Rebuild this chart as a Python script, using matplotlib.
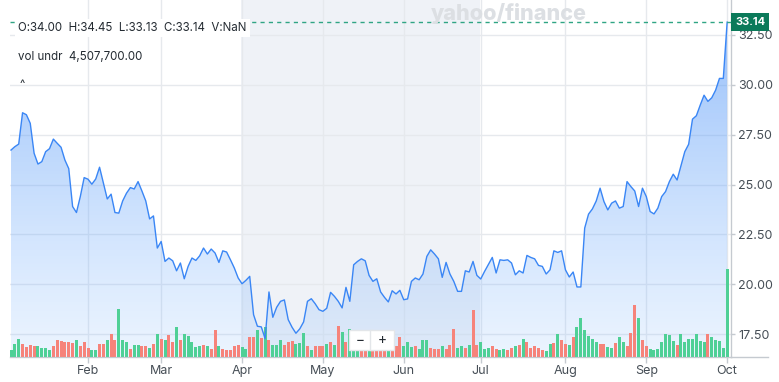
import numpy as np
import pandas as pd
import matplotlib
matplotlib.use('Agg')
import matplotlib.pyplot as plt
from matplotlib.colors import LinearSegmentedColormap

plt.rcParams['font.family'] = ['Inter', 'DejaVu Sans']

# trading days Jan 2 - Oct 1 2025
holidays = ['2025-01-09', '2025-01-20', '2025-02-17', '2025-04-18',
            '2025-05-26', '2025-06-19', '2025-07-04', '2025-09-01']
dates = pd.bdate_range('2025-01-02', '2025-10-01')
dates = dates[~dates.isin(pd.to_datetime(holidays))]

close = [
    26.73, 26.90, 27.03, 28.60, 28.50, 28.07, 26.57, 26.03, 26.15, 26.65,
    26.80, 27.28, 27.07, 26.87, 26.23, 25.80, 23.90, 23.60, 24.40, 25.35,
    25.27, 25.02, 25.28, 25.87, 25.07, 24.28, 24.52, 23.60, 23.57, 24.18,
    24.57, 24.85, 24.78, 25.15, 24.68, 24.18, 23.28, 23.43, 21.82, 22.15,
    21.15, 21.32, 21.18, 20.68, 21.07, 20.28, 20.90, 21.32, 21.20, 21.43,
    21.82, 21.52, 21.77, 21.57, 21.10, 21.68, 21.62, 21.23, 20.82, 20.32,
    20.03, 20.20, 20.40, 18.48, 17.90, 17.87, 17.28, 19.62, 18.35, 18.85,
    19.15, 19.22, 18.23, 17.85, 17.55, 17.77, 18.12, 19.15, 19.28, 19.03,
    18.73, 18.65, 18.80, 19.60, 19.40, 19.15, 18.82, 19.85, 19.15, 20.98,
    21.15, 21.28, 21.18, 20.45, 20.15, 20.28, 19.62, 19.35, 19.12, 19.68,
    19.52, 19.70, 19.23, 19.27, 20.15, 20.32, 20.23, 20.52, 21.40, 21.73,
    21.52, 21.28, 20.35, 21.10, 20.52, 20.15, 19.65, 19.65, 20.68, 20.62,
    21.15, 20.45, 20.27, 20.65, 21.00, 21.35, 20.57, 21.23, 21.20, 21.23,
    21.07, 20.48, 20.68, 20.57, 21.45, 21.35, 21.28, 20.95, 20.90, 20.52,
    20.73, 21.68, 21.60, 21.68, 20.73, 20.37, 20.62, 19.87, 19.87, 22.82,
    23.52, 23.78, 24.18, 24.82, 24.15, 23.73, 24.07, 24.18, 23.82, 23.90,
    25.15, 24.90, 24.68, 23.90, 24.82, 24.40, 23.65, 23.53, 23.82, 24.40,
    24.65, 25.15, 25.52, 25.23, 25.95, 26.65, 27.02, 28.28, 28.45, 28.98,
    29.48, 29.17, 29.35, 29.73, 30.32, 30.32, 33.14,
]

# volume in thousands of shares
volume = [
    347, 673, 948, 689, 502, 606, 585, 570, 466, 466,
    347, 585, 881, 844, 777, 793, 741, 881, 585, 761,
    466, 378, 347, 689, 689, 896, 1191, 865, 2450, 881,
    761, 430, 622, 622, 585, 554, 451, 673, 1155, 932,
    865, 1103, 777, 1554, 896, 1155, 1072, 793, 502, 585,
    637, 585, 430, 1362, 554, 430, 347, 347, 554, 622,
    502, 430, 1036, 1036, 1362, 984, 1538, 865, 637, 637,
    881, 637, 761, 844, 673, 725, 1207, 554, 347, 554,
    554, 554, 689, 761, 606, 1570, 1295, 777, 1414, 554,
    378, 466, 502, 466, 466, 466, 518, 518, 518, 466,
    585, 1036, 554, 761, 502, 554, 430, 865, 865, 466,
    414, 430, 554, 430, 622, 1414, 482, 554, 466, 637,
    2398, 606, 761, 430, 466, 585, 414, 347, 430, 378,
    466, 585, 637, 917, 761, 466, 554, 466, 347, 326,
    673, 725, 1155, 881, 673, 606, 1036, 1538, 2020, 1362,
    1072, 948, 761, 673, 673, 518, 466, 725, 1000, 777,
    585, 1207, 2657, 1984, 896, 554, 414, 378, 430, 761,
    1155, 1124, 813, 637, 1155, 761, 948, 932, 1155, 844,
    777, 1155, 1036, 896, 813, 466, 4508,
]

# g = up day, r = down day
direction = ('gggrrrrggg' 'grrrrrrgrr' 'rggrrgrrgg' 'grggrrgrgr'
             'grrgrggggg' 'rgrrgrrrrr' 'ggrrgrgrgg' 'grrrgggrgr'
             'rrgrgrgrgg' 'grrgrrrrgr' 'rrgggrgggr' 'rrgrrrggrg'
             'rrgggrrggr' 'rgrgrrrrrg' 'grgrrgrggg' 'gggrrggrgg'
             'rrrgrrgggg' 'gggrgggggg' 'grggggg')

tick_months = ['Feb', 'Mar', 'Apr', 'May', 'Jun', 'Jul', 'Aug', 'Sep', 'Oct']
price_ticks = [17.5, 20.0, 22.5, 25.0, 27.5, 30.0, 32.5]
last_close = 33.14
ohlc_text = 'O:34.00  H:34.45  L:33.13  C:33.14  V:NaN'
vol_text = 'vol undr  4,507,700.00'

W, H = 779, 382
fig = plt.figure(figsize=(W / 100, H / 100), dpi=100)
ax = fig.add_axes([10 / W, 25 / H, 721 / W, 357 / H])
ax_v = ax.twinx()
ax_l = ax.twinx()
for a in (ax_v, ax_l):
    a.patch.set_visible(False)
    a.set_yticks([])

x = np.arange(len(close))
month_first = [i for i in range(1, len(dates)) if dates[i].month != dates[i - 1].month]
ylo, yhi = 16.36, 34.25
xlo, xhi = -0.26, 187.0

# highlight band Apr - Jul
ax.axvspan(month_first[2] - 0.2, month_first[5] - 0.2, color='#eff2f7', zorder=0, lw=0)
for p in price_ticks:
    ax.axhline(p, color='#e6e9ed', lw=1, zorder=1)
for m in month_first:
    ax.axvline(m, color='#e6e9ed', lw=1, zorder=1)

# gradient fill under the line
poly = ax.fill_between(x, close, ylo, color='none', lw=0)
cmap = LinearSegmentedColormap.from_list(
    'fill', [(0.55, 0.75, 1.0, 0.17), (0.35, 0.60, 0.97, 0.62)])
grad = np.linspace(0, 1, 256).reshape(-1, 1)
im = ax.imshow(grad, extent=[x[0], x[-1], ylo, max(close)], origin='lower',
               aspect='auto', cmap=cmap, zorder=2)
im.set_clip_path(poly.get_paths()[0], transform=ax.transData)

# volume bars
bar_colors = ['#4fd096' if c == 'g' else '#f6837a' for c in direction]
ax_v.bar(x, volume, width=0.78, color=bar_colors, zorder=3)
ax_v.set_ylim(0, 18300)

# price line
ax_l.plot(x, close, color='#3a86f5', lw=1.0, zorder=4)
ax_l.axhline(last_close, color='#2fa584', lw=1, ls=(0, (3, 3)), zorder=5)
ax_l.annotate(f'{last_close:.2f}', xy=(1.0, last_close), xycoords=('axes fraction', 'data'),
              xytext=(3, 0), textcoords='offset points', ha='left', va='center',
              color='white', fontsize=8, fontweight='bold', zorder=10,
              bbox=dict(boxstyle='square,pad=0.35', fc='#0b7a5a', ec='none'),
              annotation_clip=False)

for a in (ax, ax_l):
    a.set_ylim(ylo, yhi)
ax.set_xlim(xlo, xhi)

ax.yaxis.tick_right()
ax.set_yticks(price_ticks)
ax.set_yticklabels([f'{p:.2f}' for p in price_ticks])
ax.set_xticks(month_first)
ax.set_xticklabels(tick_months)
ax.tick_params(axis='y', left=False, right=True, length=3, width=1, color='#c5cad0',
               labelsize=9, labelcolor='#464e56', pad=2)
ax.tick_params(axis='x', length=4, width=1, color='#c5cad0',
               labelsize=9, labelcolor='#464e56', pad=2)
for a in (ax, ax_v, ax_l):
    a.spines['top'].set_visible(False)
    a.spines['left'].set_visible(False)
    a.spines['right'].set_color('#c5cad0')
    a.spines['bottom'].set_color('#c5cad0')
fig.add_artist(plt.Line2D([731 / W, 768 / W], [25 / H, 25 / H],
                          transform=fig.transFigure, color='#c5cad0', lw=1))

fig.text(509 / W, 1 - 14 / H, 'yahoo/finance', ha='center', va='center',
         fontsize=15.5, fontweight='heavy', color='#dcdfe3')
fig.text(18 / W, 1 - 28 / H, ohlc_text, ha='left', va='center', fontsize=8.3,
         color='#232a31', zorder=20,
         bbox=dict(boxstyle='square,pad=0.3', fc='white', ec='none'))
fig.text(18 / W, 1 - 57 / H, vol_text, ha='left', va='center', fontsize=8.3,
         color='#232a31')
fig.text(20 / W, 1 - 84 / H, '^', ha='left', va='center', fontsize=8,
         color='#232a31')
fig.text(361 / W, 1 - 340 / H, ' \u2212 ', ha='center', va='center', fontsize=10,
         color='#232a31', bbox=dict(boxstyle='square,pad=0.25', fc='white', ec='#e3e6e9'))
fig.text(382 / W, 1 - 340 / H, ' + ', ha='center', va='center', fontsize=10,
         color='#232a31', bbox=dict(boxstyle='square,pad=0.25', fc='white', ec='#e3e6e9'))

fig.savefig('out.png', dpi=100)
